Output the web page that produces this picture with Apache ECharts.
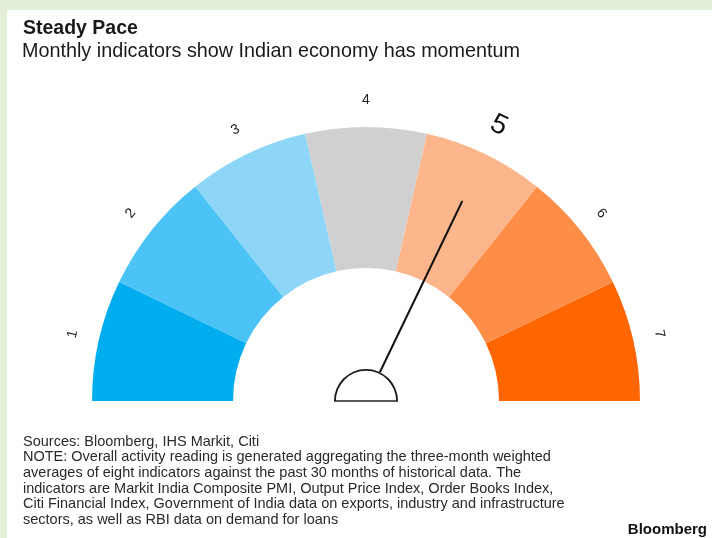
<!DOCTYPE html>
<html>
<head>
<meta charset="utf-8">
<script src="https://cdn.jsdelivr.net/npm/echarts@6/dist/echarts.min.js"></script>
<style>
  html, body { margin: 0; padding: 0; background: #ffffff; }
  #chart { width: 712px; height: 538px; }
</style>
</head>
<body>
<div id="chart"></div>
<script>
// Activity reading scale: seven bands, reading sits on band 5
const bandLabels = ['1', '2', '3', '4', '5', '6', '7'];
const bandColors = ['#00adef', '#4cc3f6', '#8ed6f8', '#d0d0d0', '#fdb68c', '#fd8d47', '#ff6600'];
const reading = 5;

const titleText = 'Steady Pace';
const subtitleText = 'Monthly indicators show Indian economy has momentum';
const footerLines = [
  'Sources: Bloomberg, IHS Markit, Citi',
  'NOTE: Overall activity reading is generated aggregating the three-month weighted',
  'averages of eight indicators against the past 30 months of historical data. The',
  'indicators are Markit India Composite PMI, Output Price Index, Order Books Index,',
  'Citi Financial Index, Government of India data on exports, industry and infrastructure',
  'sectors, as well as RBI data on demand for loans'
];

// Dial geometry (pixels)
const CX = 366, CY = 401;
const R_OUTER = 274, BAND_W = 141;
const R_LABEL = 301;
const R_HUB = 32;
const FONT = '"Liberation Sans", Arial, Helvetica, sans-serif';

const n = bandLabels.length;
const half = 180 / n / 2;

const chart = echarts.init(document.getElementById('chart'));

const option = {
  backgroundColor: '#ffffff',
  animation: false,
  title: [
    {
      text: titleText, left: 18, top: 14,
      textStyle: { fontFamily: FONT, fontSize: 19.5, fontWeight: 'bold', color: '#1a1a1a' }
    },
    {
      text: subtitleText, left: 17, top: 37,
      textStyle: { fontFamily: FONT, fontSize: 19.8, fontWeight: 'normal', color: '#1a1a1a' }
    },
    {
      text: footerLines.join('\n'), left: 18, top: 429,
      textStyle: { fontFamily: FONT, fontSize: 14.5, lineHeight: 15.6, fontWeight: 'normal', color: '#2a2a2a' }
    },
    {
      text: 'Bloomberg', right: 0, top: 517,
      textStyle: { fontFamily: FONT, fontSize: 15, fontWeight: 'bold', color: '#111111' }
    }
  ],
  graphic: [
    { type: 'rect', shape: { x: 0, y: 0, width: 712, height: 10 }, style: { fill: '#e2efd9' }, silent: true },
    { type: 'rect', shape: { x: 0, y: 0, width: 7, height: 538 }, style: { fill: '#e2efd9' }, silent: true },
    // flat base of the hub
    { type: 'line', shape: { x1: CX - R_HUB, y1: CY, x2: CX + R_HUB, y2: CY },
      style: { stroke: '#222222', lineWidth: 1.6 }, z: 100, silent: true }
  ],
  series: [
    // coloured bands
    {
      type: 'gauge', center: [CX, CY], radius: R_OUTER,
      startAngle: 180, endAngle: 0, min: 0, max: n, splitNumber: n,
      z: 1,
      axisLine: {
        lineStyle: {
          width: BAND_W,
          color: bandColors.map((c, i) => [(i + 1) / n, c])
        }
      },
      axisTick: { show: false }, splitLine: { show: false }, axisLabel: { show: false },
      pointer: { show: false }, anchor: { show: false }, title: { show: false }, detail: { show: false },
      data: []
    },
    // band numbers and needle (scale runs through band centres)
    {
      type: 'gauge', center: [CX, CY], radius: R_LABEL,
      startAngle: 180 - half, endAngle: half, min: 1, max: n, splitNumber: n - 1,
      z: 2,
      axisLine: { show: false, lineStyle: { width: 0 } },
      axisTick: { show: false },
      splitLine: { show: false, length: 0, distance: 0 },
      axisLabel: {
        show: true, distance: 0, rotate: 'tangential',
        color: '#222222', fontFamily: FONT, fontSize: 14,
        formatter: function (v) {
          const s = String(Math.round(v));
          return Math.round(v) === reading ? '{big|' + s + '}' : s;
        },
        rich: { big: { fontSize: 28, color: '#111111', fontFamily: FONT, padding: [0, 0, 10, 0] } }
      },
      pointer: {
        show: true, icon: 'rect', length: 222, width: 2, offsetCenter: [0, 0],
        itemStyle: { color: '#111111' }
      },
      anchor: { show: false }, title: { show: false }, detail: { show: false },
      data: [{ value: reading }]
    },
    // hub face
    {
      type: 'gauge', center: [CX, CY], radius: R_HUB,
      startAngle: 180, endAngle: 0, min: 0, max: 1,
      z: 3,
      axisLine: { lineStyle: { width: R_HUB, color: [[1, '#ffffff']] } },
      axisTick: { show: false }, splitLine: { show: false }, axisLabel: { show: false },
      pointer: { show: false }, anchor: { show: false }, title: { show: false }, detail: { show: false },
      data: []
    },
    // hub outline
    {
      type: 'gauge', center: [CX, CY], radius: R_HUB,
      startAngle: 180, endAngle: 0, min: 0, max: 1,
      z: 4,
      axisLine: { lineStyle: { width: 1.8, color: [[1, '#1a1a1a']] } },
      axisTick: { show: false }, splitLine: { show: false }, axisLabel: { show: false },
      pointer: { show: false }, anchor: { show: false }, title: { show: false }, detail: { show: false },
      data: []
    }
  ]
};

chart.setOption(option);
</script>
</body>
</html>
